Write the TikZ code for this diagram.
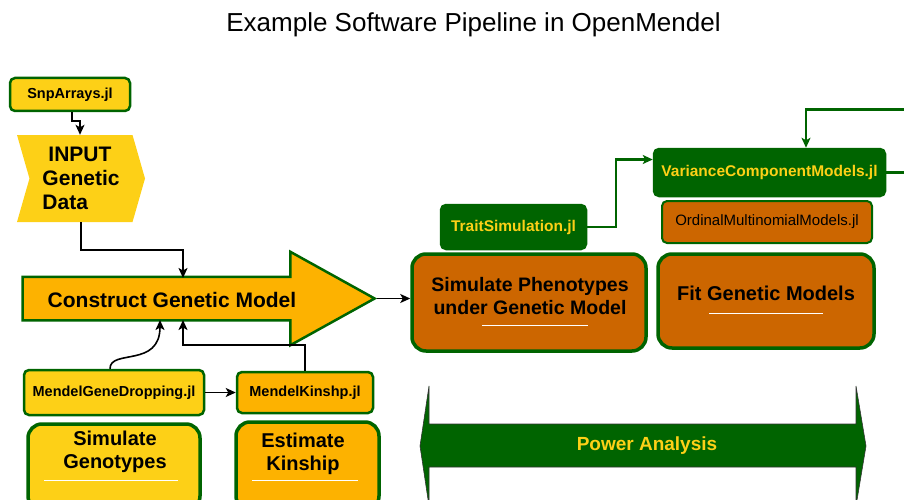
\documentclass[tikz,border=0pt]{standalone}
\usepackage{fontspec}
\setmainfont{Liberation Sans}
\usetikzlibrary{arrows.meta,shapes.symbols,shapes.arrows,calc,positioning}

\definecolor{gold}{RGB}{253,208,23}
\definecolor{amber}{RGB}{253,178,0}
\definecolor{rust}{RGB}{204,102,0}
\definecolor{leaf}{RGB}{0,100,0}

\begin{document}
\begin{tikzpicture}[x=1pt,y=-1pt,
    tool/.style={rectangle,rounded corners=5pt,draw=leaf,line width=2.5pt,
      font=\bfseries\fontsize{14.5}{17}\selectfont},
    task/.style={rectangle,rounded corners=14pt,draw=leaf,line width=3.5pt},
    tasktext/.style={align=center,font=\bfseries\fontsize{20}{23.5}\selectfont},
    blank line/.style={draw=white,line width=1pt},
    link/.style={draw=black,line width=1.6pt,-{Stealth[length=10pt,width=9pt,inset=2.5pt]}},
    glink/.style={draw=leaf,line width=2.2pt,-{Stealth[length=10pt,width=9pt,inset=2.5pt]}}]

  \useasboundingbox (0,0) rectangle (904,500);
  \clip (0,0) rectangle (904,500);

  \node[font=\fontsize{26}{30}\selectfont] (title) at (473.5,25)
    {Example Software Pipeline in OpenMendel};

  % left column: input and model construction
  \node[tool,fill=gold,minimum width=120pt,minimum height=33pt] (snp) at (70,94.5) {SnpArrays.jl};
  \node[signal,signal from=west,signal to=east,signal pointer angle=148,fill=gold,
    minimum width=128pt,minimum height=87pt,align=left,
    font=\bfseries\fontsize{21}{24}\selectfont] (input) at (81,178.5)
    {\hspace*{6pt}INPUT\\Genetic\\Data};

  \node[single arrow,fill=amber,draw=leaf,line width=2.5pt,inner xsep=0pt,inner ysep=20.5pt,
    minimum height=352pt,minimum width=91pt,
    single arrow head extend=25pt,single arrow tip angle=58] (build) at (179,298.5) {};
  \node[font=\bfseries\fontsize{21}{24}\selectfont] (build text) at (172,300)
    {Construct Genetic Model};
  \coordinate (build in)  at (183,278);
  \coordinate (build out) at (183,320);
  \coordinate (build drop) at (160,320);

  \node[tool,fill=gold,minimum width=180pt,minimum height=45pt] (gd) at (114,392.5) {MendelGeneDropping.jl};
  \node[tool,fill=amber,minimum width=136pt,minimum height=41pt] (kin) at (305,392.5) {MendelKinshp.jl};

  \node[task,fill=gold,minimum width=172pt,minimum height=86pt] (simgeno) at (114,467) {};
  \node[tasktext] (simgeno text) at (115,452) {Simulate\\Genotypes};
  \node[task,fill=amber,minimum width=143pt,minimum height=88pt] (estkin) at (307.5,466) {};
  \node[tasktext] (estkin text) at (303,454) {Estimate\\Kinship};
  \draw[blank line] (44,480) -- (178,480);
  \draw[blank line] (252,480) -- (358,480);

  % right part: phenotypes and model fitting
  \begin{scope}[every node/.style={tool,fill=leaf,text=gold,font=\bfseries\fontsize{15.5}{18}\selectfont}]
    \node[minimum width=145pt,minimum height=44pt] (trait) at (513.5,227) {TraitSimulation.jl};
    \node[minimum width=231pt,minimum height=47pt] (vcm) at (769.5,172.5) {VarianceComponentModels.jl};
  \end{scope}
  \node[tool,fill=rust,line width=2pt,minimum width=210pt,minimum height=42pt,
    font=\fontsize{15}{18}\selectfont] (omm) at (767,222) {OrdinalMultinomialModels.jl};

  \node[task,fill=rust,minimum width=234pt,minimum height=97pt] (pheno) at (529,302.5) {};
  \node[tasktext,font=\bfseries\fontsize{19.5}{23}\selectfont] (pheno text) at (530,296.5)
    {Simulate Phenotypes\\under Genetic Model};
  \node[task,fill=rust,minimum width=216pt,minimum height=94pt] (fit) at (766,301) {};
  \node[tasktext] (fit text) at (766,293) {Fit Genetic Models};
  \draw[blank line] (482,325) -- (588,325);
  \draw[blank line] (709,313) -- (823,313);

  \filldraw[fill=leaf,draw=black!80,line width=0.6pt]
    (420,446) -- (429,386) -- (429,424) -- (856,424) -- (856,386) -- (866,446)
    -- (856,506) -- (856,467) -- (429,467) -- (429,506) -- cycle;
  \node[text=gold,font=\bfseries\fontsize{19}{22}\selectfont] (power) at (647,446) {Power Analysis};

  % connectors
  \draw[link] (snp.south) ++(2,0) -- ++(0,9) -- ++(8,0) -- (input.north -| 80,0);
  \draw[link] (input.south) -- ++(0,28) -| (build in);
  \draw[link] (gd.north) ++(-4,0) .. controls ++(0,-20) and (160,368) .. (build drop);
  \draw[link] (gd.east) -- (kin.west);
  \draw[link] (kin.north) -- ++(0,-26) -| (build out);
  \draw[link] (build.tip) -- (build.tip -| pheno.west);
  \draw[glink] (trait.east) -- ++(29,0) |- ([yshift=13pt]vcm.west);
  \draw[glink] (vcm.east) -- ++(40,0) -- ++(0,-63) -| ([xshift=36.5pt]vcm.north);

\end{tikzpicture}
\end{document}
